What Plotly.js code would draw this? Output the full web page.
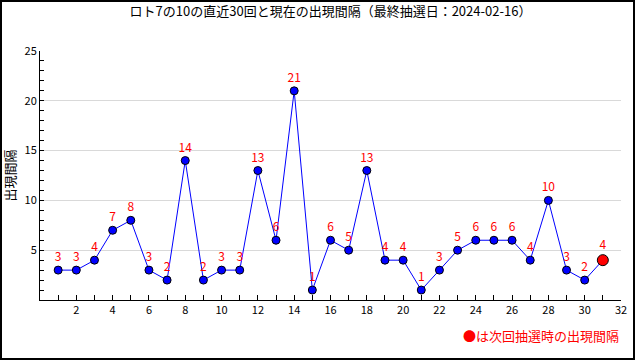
<!DOCTYPE html>
<html>
<head>
<meta charset="utf-8">
<script src="https://cdn.plot.ly/plotly-3.0.1.min.js"></script>
<style>html,body{margin:0;padding:0;background:#fff;}#chart{width:640px;height:360px;}</style>
</head>
<body>
<div id="chart"></div>
<script>
const draws = [1,2,3,4,5,6,7,8,9,10,11,12,13,14,15,16,17,18,19,20,21,22,23,24,25,26,27,28,29,30,31];
const intervals = [3,3,4,7,8,3,2,14,2,3,3,13,6,21,1,6,5,13,4,4,1,3,5,6,6,6,4,10,3,2,4];
const xTickVals = [2,4,6,8,10,12,14,16,18,20,22,24,26,28,30,32];
const yTickVals = [5,10,15,20,25];
const titleText = 'ロト7の10の直近30回と現在の出現間隔（最終抽選日：2024-02-16）';
const yTitle = '出現間隔';
const noteText = '●は次回抽選時の出現間隔';

const FONT = '"Noto Sans CJK JP", "DejaVu Sans", sans-serif';
const n = intervals.length;
const colors = intervals.map((v,i)=> i===n-1 ? '#ff0000' : '#0000ff');
const sizes = intervals.map((v,i)=> i===n-1 ? 11 : 8);

const trace = {
  x: draws, y: intervals,
  mode: 'lines+markers+text',
  text: intervals.map(String),
  textposition: 'top center',
  textfont: {family: FONT, size: 12, color: '#ff0000'},
  line: {color: '#0000ff', width: 1},
  marker: {color: colors, size: sizes, opacity: 1, line: {color: '#000000', width: 1}},
  cliponaxis: false,
  hoverinfo: 'skip'
};

const layout = {
  width: 640, height: 360,
  margin: {l: 40, r: 19, t: 51, b: 60},
  paper_bgcolor: '#ffffff', plot_bgcolor: '#ffffff',
  showlegend: false,
  font: {family: FONT, size: 11, color: '#000'},
  title: {text: titleText, x: 0.5, xref: 'paper', xanchor: 'center', y: 1 - 11/360, yref: 'container', yanchor: 'middle',
          font: {family: FONT, size: 13, color: '#000'}},
  xaxis: {
    range: [0, 32], showgrid: false, zeroline: false,
    showline: true, linecolor: '#000', linewidth: 1,
    tickmode: 'array', tickvals: xTickVals, ticktext: xTickVals.map(String),
    ticks: 'inside', ticklen: 5, tickcolor: '#000',
    minor: {dtick: 1, tick0: 0, ticks: 'inside', ticklen: 5, tickcolor: '#000'},
    tickfont: {family: FONT, size: 11, color: '#000'},
    fixedrange: true
  },
  yaxis: {
    range: [0, 25], showgrid: true, gridcolor: '#d9d9d9', gridwidth: 1, zeroline: false,
    showline: true, linecolor: '#000', linewidth: 1,
    tickmode: 'array', tickvals: yTickVals, ticktext: yTickVals.map(String),
    ticks: 'inside', ticklen: 4, tickcolor: '#000',
    minor: {dtick: 1, tick0: 0, ticks: 'inside', ticklen: 4, tickcolor: '#000', showgrid: false},
    tickfont: {family: FONT, size: 11, color: '#000'},
    title: {text: yTitle, standoff: 6, font: {family: FONT, size: 13, color: '#000'}},
    fixedrange: true
  },
  annotations: [{
    text: noteText, xref: 'paper', yref: 'paper', x: 1, y: -35/249,
    xanchor: 'right', yanchor: 'middle', showarrow: false,
    font: {family: FONT, size: 13, color: '#ff0000'}
  }],
  shapes: [{
    type: 'rect', xref: 'paper', yref: 'paper',
    x0: (1-40)/581, x1: (634-40)/581, y0: (300-359)/249, y1: (300-1)/249,
    line: {color: '#000', width: 2}, fillcolor: 'rgba(0,0,0,0)', layer: 'above'
  }]
};

Plotly.newPlot('chart', [trace], layout, {displayModeBar: false, staticPlot: true});
</script>
</body>
</html>
